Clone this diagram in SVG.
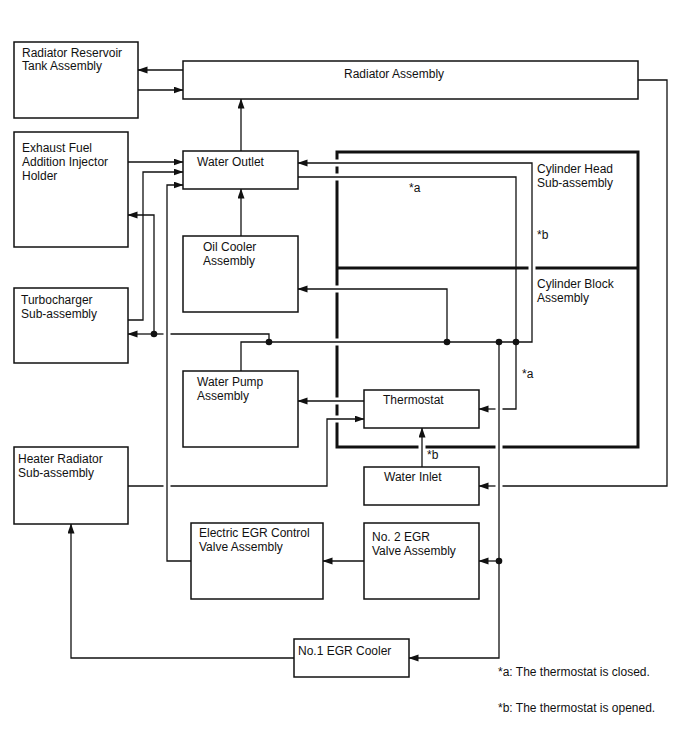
<svg xmlns="http://www.w3.org/2000/svg" width="688" height="755" viewBox="0 0 688 755">
<style>
.box{fill:#fff;stroke:#111;stroke-width:1.5}
.t{font-family:"Liberation Sans",Arial,sans-serif;font-size:12px;fill:#111}
.c{fill:none;stroke:#111;stroke-width:1.3}
.a{marker-end:url(#ah)}
.thick{fill:none;stroke:#111;stroke-width:3}
.gap{fill:#fff}
.dot{fill:#111}
</style>
<defs>
<marker id="ah" markerWidth="10" markerHeight="8" refX="9.5" refY="3.5" orient="auto" markerUnits="userSpaceOnUse">
<path d="M0,0 L10,3.5 L0,7 z" fill="#111"/>
</marker>
</defs>
<rect width="688" height="755" fill="#fff"/>

<g id="cylinder">
<rect x="337" y="152" width="301" height="295" class="thick"/>
<line x1="337" y1="268" x2="638" y2="268" class="thick"/>
<text class="t" x="537" y="173">Cylinder Head</text>
<text class="t" x="537" y="187">Sub-assembly</text>
<text class="t" x="537" y="288">Cylinder Block</text>
<text class="t" x="537" y="302">Assembly</text>
</g>
<g id="gaps">
<rect class="gap" x="334" y="159.5" width="6" height="7"/>
<rect class="gap" x="334" y="173.5" width="6" height="7"/>
<rect class="gap" x="334" y="285.5" width="6" height="7"/>
<rect class="gap" x="334" y="338.5" width="6" height="7"/>
<rect class="gap" x="334" y="397.5" width="6" height="7"/>
<rect class="gap" x="334" y="415.5" width="6" height="7"/>
<rect class="gap" x="418.5" y="444" width="7" height="6"/>
<rect class="gap" x="495.5" y="444" width="7" height="6"/>
<rect class="gap" x="528.5" y="265" width="7" height="6"/>
</g>

<g id="connectors">
<path class="c a" d="M183,70 H138"/>
<path class="c a" d="M138,90 H183"/>
<path class="c a" d="M241,151 V99"/>
<path class="c a" d="M241,236 V189"/>
<path class="c a" d="M128,162 H183"/>
<path class="c a" d="M128,320 H143 V172 H183"/>
<path class="c a" d="M154,334 V215 H128"/>
<path class="c a" d="M154,334 H128"/>
<path class="c" d="M269,342 V334 H170.5"/>
<path class="c" d="M163.5,334 H154"/>
<path class="c a" d="M191,561 H167 V185 H183"/>
<path class="c a" d="M241,371 V342 H532 V163 H298"/>
<path class="c" d="M298,177 H516 V409 H502.5"/>
<path class="c a" d="M495.5,409 H479"/>
<path class="c a" d="M447,342 V289 H298"/>
<path class="c a" d="M499,342 V658 H409"/>
<path class="c a" d="M499,561 H479"/>
<path class="c a" d="M364,561 H323"/>
<path class="c a" d="M294,658 H71 V524"/>
<path class="c a" d="M364,401 H298"/>
<path class="c" d="M128,486 H163.5"/>
<path class="c a" d="M170.5,486 H327 V419 H364"/>
<path class="c a" d="M422,467 V428"/>
<path class="c" d="M638,80 H667 V486 H502.5"/>
<path class="c a" d="M495.5,486 H479"/>
<circle class="dot" cx="154" cy="334" r="3.3"/>
<circle class="dot" cx="269" cy="342" r="3.3"/>
<circle class="dot" cx="447" cy="342" r="3.3"/>
<circle class="dot" cx="499" cy="342" r="3.3"/>
<circle class="dot" cx="516" cy="342" r="3.3"/>
<circle class="dot" cx="499" cy="561" r="3.3"/>
<text class="t" x="409" y="192">*a</text>
<text class="t" x="537" y="239">*b</text>
<text class="t" x="522" y="378">*a</text>
<text class="t" x="427" y="459">*b</text>
</g>

<g id="reservoir">
<rect class="box" x="14" y="42" width="124" height="76"/>
<text class="t" x="22" y="57">Radiator Reservoir</text>
<text class="t" x="22" y="70">Tank Assembly</text>
</g>
<g id="radiator">
<rect class="box" x="183" y="61" width="455" height="38"/>
<text class="t" x="344" y="78">Radiator Assembly</text>
</g>
<g id="exhaust">
<rect class="box" x="14" y="132" width="114" height="115"/>
<text class="t" x="22" y="152">Exhaust Fuel</text>
<text class="t" x="22" y="166">Addition Injector</text>
<text class="t" x="22" y="180">Holder</text>
</g>
<g id="water-outlet">
<rect class="box" x="183" y="151" width="115" height="38"/>
<text class="t" x="197" y="166">Water Outlet</text>
</g>
<g id="oil-cooler">
<rect class="box" x="183" y="236" width="115" height="76"/>
<text class="t" x="203" y="251">Oil Cooler</text>
<text class="t" x="203" y="265">Assembly</text>
</g>
<g id="turbo">
<rect class="box" x="14" y="288" width="114" height="75"/>
<text class="t" x="21" y="304">Turbocharger</text>
<text class="t" x="21" y="318">Sub-assembly</text>
</g>
<g id="water-pump">
<rect class="box" x="183" y="371" width="115" height="76"/>
<text class="t" x="197" y="386">Water Pump</text>
<text class="t" x="197" y="400">Assembly</text>
</g>
<g id="thermostat">
<rect class="box" x="364" y="390" width="115" height="38"/>
<text class="t" x="383" y="404">Thermostat</text>
</g>
<g id="water-inlet">
<rect class="box" x="364" y="467" width="115" height="38"/>
<text class="t" x="384" y="481">Water Inlet</text>
</g>
<g id="heater">
<rect class="box" x="14" y="447" width="114" height="77"/>
<text class="t" x="18" y="463">Heater Radiator</text>
<text class="t" x="18" y="477">Sub-assembly</text>
</g>
<g id="egr-control">
<rect class="box" x="191" y="523" width="132" height="76"/>
<text class="t" x="199" y="537">Electric EGR Control</text>
<text class="t" x="199" y="551">Valve Assembly</text>
</g>
<g id="egr-valve2">
<rect class="box" x="364" y="523" width="115" height="76"/>
<text class="t" x="372" y="541">No. 2 EGR</text>
<text class="t" x="372" y="555">Valve Assembly</text>
</g>
<g id="egr-cooler1">
<rect class="box" x="294" y="639" width="115" height="38"/>
<text class="t" x="298" y="655">No.1 EGR Cooler</text>
</g>
<g id="legend">
<text class="t" x="498" y="676">*a: The thermostat is closed.</text>
<text class="t" x="498" y="712">*b: The thermostat is opened.</text>
</g>
</svg>
